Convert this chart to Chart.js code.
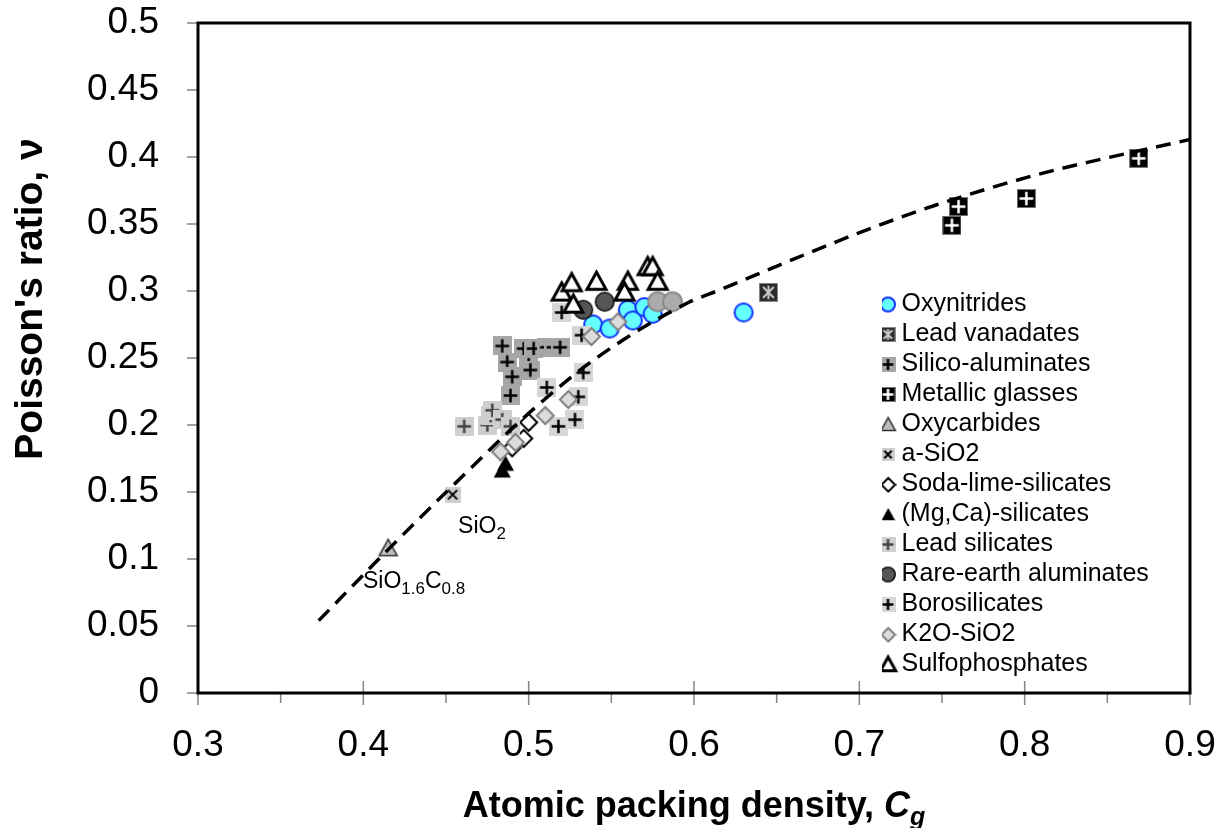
<!DOCTYPE html>
<html lang="en">
<head>
    <meta charset="UTF-8">
    <title>Poisson's ratio vs atomic packing density</title>
    <style>
        body {
            margin: 0;
            background: #fff;
        }
        .chart-box {
            position: relative;
            width: 1228px;
            height: 828px;
        }
    </style>
</head>
<body>
    <div class="chart-box">
        <canvas id="poissonChart"></canvas>
    </div>

    <script src="https://cdn.jsdelivr.net/npm/chart.js"></script>
    <script>
        // values, [Cg, nu]
        const oxynitrides = [[0.539, 0.275], [0.549, 0.272], [0.560, 0.286], [0.563, 0.278], [0.570, 0.288], [0.575, 0.283], [0.630, 0.284]];
        const leadVanadates = [[0.645, 0.299]];
        const silicoAluminates = [[0.484, 0.259], [0.497, 0.257], [0.503, 0.257], [0.511, 0.258], [0.515, 0.258], [0.519, 0.258],
                                  [0.487, 0.247], [0.500, 0.245], [0.501, 0.241], [0.490, 0.236], [0.489, 0.222]];
        const metallicGlasses = [[0.756, 0.349], [0.760, 0.363], [0.801, 0.369], [0.869, 0.399]];
        const oxycarbides = [[0.415, 0.108]];
        const aSiO2 = [[0.454, 0.148]];
        const sodaLime = [[0.500, 0.202], [0.497, 0.190], [0.490, 0.183]];
        const mgCaSilicates = [[0.484, 0.166], [0.486, 0.171]];
        const leadSilicates = [[0.461, 0.199], [0.475, 0.200], [0.477, 0.207], [0.478, 0.211], [0.484, 0.204], [0.489, 0.199]];
        const rareEarth = [[0.533, 0.286], [0.546, 0.292]];
        const rareEarthGrey = [[0.578, 0.292], [0.587, 0.292]];
        const borosilicates = [[0.532, 0.267], [0.520, 0.284], [0.533, 0.239], [0.530, 0.221], [0.528, 0.204], [0.518, 0.199], [0.511, 0.228]];
        const k2oSiO2 = [[0.538, 0.266], [0.554, 0.277], [0.524, 0.219], [0.510, 0.207], [0.492, 0.187], [0.483, 0.180]];
        const sulfophosphates = [[0.520, 0.299], [0.526, 0.306], [0.527, 0.290], [0.541, 0.307], [0.560, 0.307],
                                 [0.558, 0.299], [0.572, 0.318], [0.575, 0.318], [0.578, 0.307]];

        // dashed trend line
        const trendX = [0.373, 0.415, 0.456, 0.503, 0.541, 0.596, 0.616, 0.651, 0.699, 0.746, 0.805, 0.838, 0.900];
        const trendY = [0.054, 0.107, 0.157, 0.212, 0.250, 0.291, 0.301, 0.319, 0.343, 0.364, 0.386, 0.396, 0.413];

        const xTickValues = [0.3, 0.4, 0.5, 0.6, 0.7, 0.8, 0.9];
        const xMinorTicks = [0.35, 0.45, 0.55, 0.65, 0.75, 0.85];
        const yTickValues = [0, 0.05, 0.1, 0.15, 0.2, 0.25, 0.3, 0.35, 0.4, 0.45, 0.5];

        const FONT = "'Liberation Sans', Arial, sans-serif";

        // marker pictures
        function marker(size, draw) {
            const c = document.createElement('canvas');
            c.width = size;
            c.height = size;
            draw(c.getContext('2d'), size);
            return c;
        }
        function circleMarker(d, fill, stroke, lw) {
            return marker(d + 2, (g, s) => {
                g.beginPath();
                g.arc(s / 2, s / 2, d / 2 - lw / 2, 0, Math.PI * 2);
                g.fillStyle = fill;
                g.fill();
                g.lineWidth = lw;
                g.strokeStyle = stroke;
                g.stroke();
            });
        }
        function squareMarker(s, fill, edge, glyph, glyphColor, lw) {
            return marker(s, (g) => {
                g.fillStyle = fill;
                g.fillRect(0, 0, s, s);
                if (edge) {
                    g.strokeStyle = edge;
                    g.lineWidth = 1;
                    g.strokeRect(0.5, 0.5, s - 1, s - 1);
                }
                const m = s / 2, a = s * 0.36;
                g.strokeStyle = glyphColor;
                g.lineWidth = lw;
                g.beginPath();
                if (glyph === 'plus') {
                    g.moveTo(m - a, m); g.lineTo(m + a, m);
                    g.moveTo(m, m - a); g.lineTo(m, m + a);
                } else if (glyph === 'cross') {
                    g.moveTo(m - a * 0.8, m - a * 0.8); g.lineTo(m + a * 0.8, m + a * 0.8);
                    g.moveTo(m + a * 0.8, m - a * 0.8); g.lineTo(m - a * 0.8, m + a * 0.8);
                } else if (glyph === 'star') {
                    g.moveTo(m, m - a); g.lineTo(m, m + a);
                    g.moveTo(m - a * 0.8, m - a * 0.8); g.lineTo(m + a * 0.8, m + a * 0.8);
                    g.moveTo(m + a * 0.8, m - a * 0.8); g.lineTo(m - a * 0.8, m + a * 0.8);
                }
                g.stroke();
            });
        }
        function triangleMarker(w, fill, stroke, lw) {
            return marker(w + lw * 2 + 2, (g, s) => {
                const m = s / 2, h = w * 0.9;
                g.beginPath();
                g.moveTo(m, m - h * 0.55);
                g.lineTo(m + w / 2, m + h * 0.45);
                g.lineTo(m - w / 2, m + h * 0.45);
                g.closePath();
                g.fillStyle = fill;
                g.fill();
                if (lw) {
                    g.lineJoin = 'miter';
                    g.lineWidth = lw;
                    g.strokeStyle = stroke;
                    g.stroke();
                }
            });
        }
        function diamondMarker(w, fill, stroke, lw) {
            return marker(w + lw * 2, (g, s) => {
                const m = s / 2, r = w / 2;
                g.beginPath();
                g.moveTo(m, m - r); g.lineTo(m + r, m); g.lineTo(m, m + r); g.lineTo(m - r, m);
                g.closePath();
                g.fillStyle = fill;
                g.fill();
                g.lineWidth = lw;
                g.strokeStyle = stroke;
                g.stroke();
            });
        }

        const pts = arr => arr.map(p => ({ x: p[0], y: p[1] }));

        // k = 1 for the plot, smaller for the legend keys
        const styles = [
            k => circleMarker(20 * k, '#66ffff', '#1030ff', 2),
            k => squareMarker(Math.round(19 * k), '#2a2a2a', '#888', 'star', '#c8c8c8', 2),
            k => squareMarker(Math.round(19 * k), '#a6a6a6', null, 'plus', '#000', 2.5),
            k => squareMarker(Math.round(19 * k), '#000', '#777', 'plus', '#fff', 2.5),
            k => triangleMarker(18 * k, '#bdbdbd', '#333', 1.5),
            k => squareMarker(Math.round(16 * k), '#cfcfcf', null, 'cross', '#000', 2),
            k => diamondMarker(17 * k, '#fff', '#000', 2),
            k => triangleMarker(17 * k, '#000', '#000', 0),
            k => squareMarker(Math.round(19 * k), '#cfcfcf', null, 'plus', '#444', 2.5),
            k => circleMarker(20 * k, '#555', '#111', 1.5),
            k => squareMarker(Math.round(19 * k), '#d6d6d6', null, 'plus', '#000', 2.5),
            k => diamondMarker(17 * k, '#dcdcdc', '#808080', 2),
            k => triangleMarker(19 * k, '#fff', '#000', 3)
        ];
        const seriesNames = ['Oxynitrides', 'Lead vanadates', 'Silico-aluminates', 'Metallic glasses', 'Oxycarbides', 'a-SiO2',
                             'Soda-lime-silicates', '(Mg,Ca)-silicates', 'Lead silicates', 'Rare-earth aluminates',
                             'Borosilicates', 'K2O-SiO2', 'Sulfophosphates'];
        const seriesData = [oxynitrides, leadVanadates, silicoAluminates, metallicGlasses, oxycarbides, aSiO2,
                            sodaLime, mgCaSilicates, leadSilicates, rareEarth, borosilicates, k2oSiO2, sulfophosphates];

        const datasets = seriesNames.map((name, i) => ({
            label: name,
            data: pts(seriesData[i]),
            pointStyle: styles[i](1),
            legendStyle: styles[i](0.8),
            pointRadius: 8,
            order: -i
        }));
        datasets.push({
            label: '',
            data: pts(rareEarthGrey),
            pointStyle: circleMarker(21, '#ababab', '#8a8a8a', 2),
            pointRadius: 8,
            order: -0.5,
            inLegend: false
        });
        datasets.push({
            label: '',
            data: trendX.map((x, i) => ({ x: x, y: trendY[i] })),
            showLine: true,
            pointRadius: 0,
            borderColor: '#000',
            borderWidth: 3.5,
            borderDash: [15, 9],
            cubicInterpolationMode: 'monotone',
            order: -100,
            inLegend: false
        });

        // text labels next to the two reference glasses, anchored in data units
        const notes = [
            { x: 0.4573, y: 0.1194, parts: [['SiO', 0], ['2', 1]] },
            { x: 0.3998, y: 0.0784, parts: [['SiO', 0], ['1.6', 1], ['C', 0], ['0.8', 1]] }
        ];

        const decorations = {
            id: 'decorations',
            beforeDraw(chart) {
                // move the legend into the empty lower right corner of the plot
                const lg = chart.legend;
                lg.left = 882; lg.top = 287;
                lg.right = 1228; lg.bottom = 828;
                lg.width = lg.right - lg.left; lg.height = lg.bottom - lg.top;
            },
            afterDraw(chart) {
                const { ctx, chartArea: a, scales: { x, y } } = chart;
                ctx.save();
                ctx.strokeStyle = '#858585';
                ctx.lineWidth = 1.5;
                ctx.beginPath();
                yTickValues.forEach(v => {
                    const py = y.getPixelForValue(v);
                    ctx.moveTo(a.left - 11, py); ctx.lineTo(a.left, py);
                });
                xTickValues.forEach(v => {
                    const px = x.getPixelForValue(v);
                    ctx.moveTo(px, a.bottom - 12); ctx.lineTo(px, a.bottom + 12);
                });
                xMinorTicks.forEach(v => {
                    const px = x.getPixelForValue(v);
                    ctx.moveTo(px, a.bottom); ctx.lineTo(px, a.bottom + 10);
                });
                ctx.stroke();

                ctx.strokeStyle = '#000';
                ctx.lineWidth = 3;
                ctx.strokeRect(a.left, a.top, a.right - a.left, a.bottom - a.top);

                ctx.fillStyle = '#000';
                ctx.textBaseline = 'alphabetic';

                // y axis title
                ctx.save();
                ctx.translate(42, 299);
                ctx.rotate(-Math.PI / 2);
                ctx.textAlign = 'center';
                ctx.font = 'bold 39px ' + FONT;
                ctx.fillText("Poisson's ratio, \u03bd", 0, 0);
                ctx.restore();

                // x axis title with italic subscripted C_g
                ctx.textAlign = 'left';
                const main = 'Atomic packing density, ';
                ctx.font = 'bold 36px ' + FONT;
                const w1 = ctx.measureText(main).width;
                ctx.font = 'italic bold 36px ' + FONT;
                const w2 = ctx.measureText('C').width;
                ctx.font = 'italic bold 25px ' + FONT;
                const w3 = ctx.measureText('g').width;
                let tx = (a.left + a.right) / 2 - (w1 + w2 + w3) / 2;
                ctx.font = 'bold 36px ' + FONT;
                ctx.fillText(main, tx, 817);
                ctx.font = 'italic bold 36px ' + FONT;
                ctx.fillText('C', tx + w1, 817);
                ctx.font = 'italic bold 25px ' + FONT;
                ctx.fillText('g', tx + w1 + w2, 825);

                // SiO2 / SiO1.6C0.8 notes
                notes.forEach(n => {
                    let px = x.getPixelForValue(n.x);
                    const py = y.getPixelForValue(n.y);
                    n.parts.forEach(([t, sub]) => {
                        ctx.font = (sub ? '17px ' : '23px ') + FONT;
                        ctx.fillText(t, px, py + (sub ? 6 : 0));
                        px += ctx.measureText(t).width;
                    });
                });
                ctx.restore();
            }
        };

        const ctx = document.getElementById('poissonChart').getContext('2d');
        const poissonChart = new Chart(ctx, {
            type: 'scatter',
            data: { datasets: datasets },
            options: {
                responsive: true,
                maintainAspectRatio: false,
                animation: false,
                layout: { padding: { top: 23, right: 38, left: 0, bottom: 0 } },
                plugins: {
                    tooltip: { enabled: false },
                    legend: {
                        position: 'chartArea',
                        align: 'start',
                        labels: {
                            usePointStyle: true,
                            boxWidth: 2,
                            padding: 5,
                            color: '#000',
                            font: { family: FONT, size: 25 },
                            generateLabels: chart => {
                                const items = Chart.defaults.plugins.legend.labels.generateLabels(chart);
                                items.forEach(it => {
                                    const ds = chart.data.datasets[it.datasetIndex];
                                    if (ds.legendStyle) it.pointStyle = ds.legendStyle;
                                });
                                return items;
                            },
                            filter: (item, data) => data.datasets[item.datasetIndex].inLegend !== false,
                            sort: (p, q) => p.datasetIndex - q.datasetIndex
                        }
                    }
                },
                scales: {
                    x: {
                        type: 'linear',
                        min: 0.3,
                        max: 0.9,
                        grid: { display: false, drawTicks: false, tickLength: 0 },
                        border: { display: false },
                        afterBuildTicks: s => { s.ticks = xTickValues.map(v => ({ value: v })); },
                        afterFit: s => {
                            s.height = 135;
                            s.paddingLeft = 0;
                            s.paddingRight = 0;
                        },
                        ticks: {
                            padding: 31,
                            maxRotation: 0,
                            color: '#000',
                            font: { family: FONT, size: 37 },
                            callback: v => String(v)
                        }
                    },
                    y: {
                        type: 'linear',
                        min: 0,
                        max: 0.5,
                        grid: { display: false, drawTicks: false, tickLength: 0 },
                        border: { display: false },
                        afterBuildTicks: s => { s.ticks = yTickValues.map(v => ({ value: v })); },
                        afterFit: s => {
                            s.width = 198;
                            s.paddingTop = 0;
                            s.paddingBottom = 0;
                        },
                        ticks: {
                            padding: 39,
                            color: '#000',
                            font: { family: FONT, size: 37 },
                            callback: v => String(v)
                        }
                    }
                }
            },
            plugins: [decorations]
        });
    </script>
</body>
</html>
